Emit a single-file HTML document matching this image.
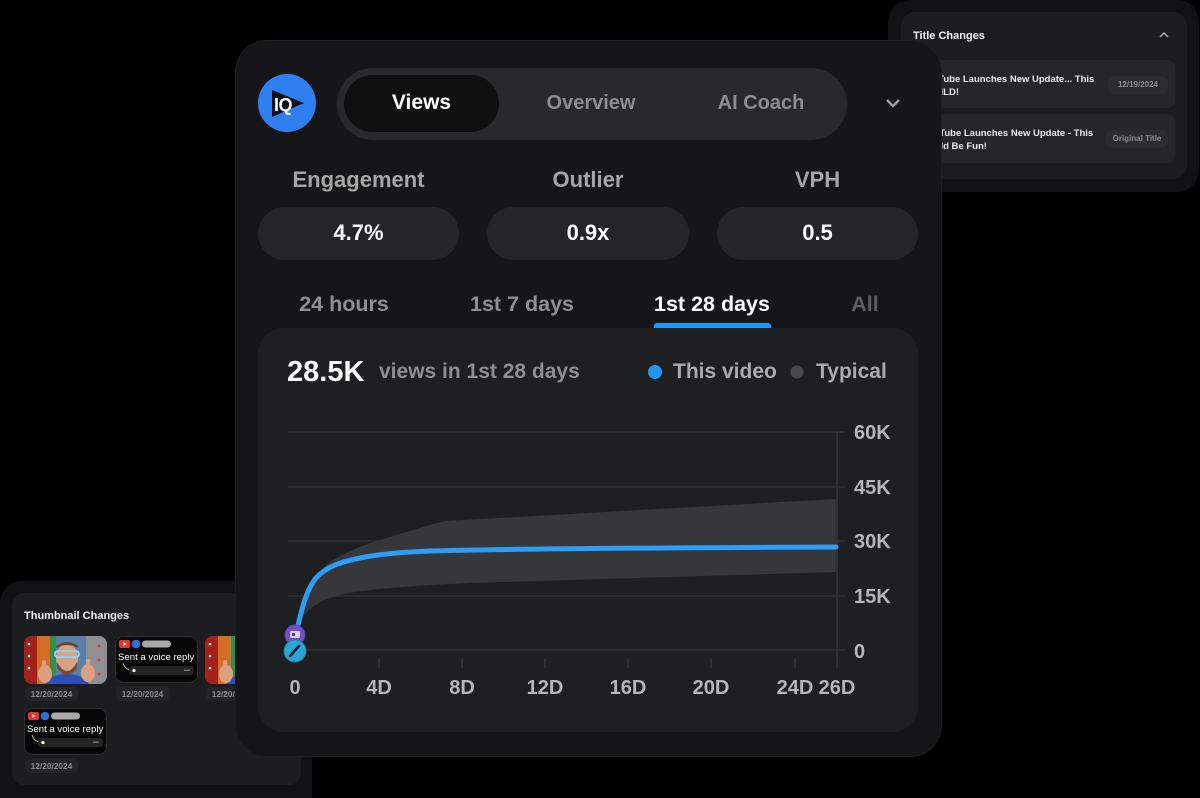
<!DOCTYPE html>
<html><head><meta charset="utf-8">
<style>
*{margin:0;padding:0;box-sizing:border-box}
html{width:1200px;height:798px;overflow:hidden;background:#000}
body{width:1200px;height:798px;background:#000;position:relative;overflow:hidden;font-family:"Liberation Sans",Arial,sans-serif;font-weight:bold}
.a{position:absolute}
.t{position:absolute;white-space:nowrap}
.cc{position:absolute;white-space:nowrap;text-align:center}
</style></head><body>

<!-- Title Changes panel -->
<div class="a" style="left:888px;top:0px;width:311px;height:192px;border-radius:22px;background:#121214"></div>
<div class="a" style="left:901px;top:12px;width:286px;height:167px;border-radius:14px;background:#1c1d1f"></div>
<div class="t" style="left:913px;top:29px;font-size:11px;line-height:14px;color:#f2f2f2">Title Changes</div>
<svg class="a" style="left:1158px;top:31px" width="12" height="8"><polyline points="2,6 6,2 10,6" fill="none" stroke="#b0b0b0" stroke-width="1.5"/></svg>
<div class="a" style="left:913px;top:60px;width:262px;height:48px;border-radius:8px;background:#252628"></div>
<div class="a" style="left:913px;top:114px;width:262px;height:49px;border-radius:8px;background:#252628"></div>
<div class="t" style="left:921px;top:72.5px;font-size:9.5px;line-height:13px;color:#ececec">YouTube Launches New Update... This<br>is WILD!</div>
<div class="t" style="left:922px;top:126.5px;font-size:9.5px;line-height:13px;color:#ececec">YouTube Launches New Update - This<br>Could Be Fun!</div>
<div class="a" style="left:1108px;top:76px;width:60px;height:18px;border-radius:6px;background:#2b2c2e"></div>
<div class="cc" style="left:1108px;top:79px;width:60px;font-size:8px;line-height:12px;color:#8a8a8a">12/19/2024</div>
<div class="a" style="left:1106px;top:130px;width:62px;height:18px;border-radius:6px;background:#2b2c2e"></div>
<div class="cc" style="left:1106px;top:133px;width:62px;font-size:8px;line-height:12px;color:#8a8a8a">Original Title</div>

<!-- Thumbnail Changes panel -->
<div class="a" style="left:0px;top:581px;width:312px;height:217px;border-radius:22px 22px 0 0;background:#121214"></div>
<div class="a" style="left:12px;top:593px;width:289px;height:192px;border-radius:12px;background:#1c1d1f"></div>
<div class="t" style="left:24px;top:609px;font-size:11px;line-height:14px;color:#f2f2f2">Thumbnail Changes</div>

<svg class="a" style="left:0;top:0" width="320" height="798">
  <defs>
    <clipPath id="c1"><rect x="24" y="636" width="83" height="48" rx="8"/></clipPath>
    <clipPath id="c3"><rect x="205" y="636" width="83" height="48" rx="8"/></clipPath>
    <g id="face">
      <rect x="0" y="0" width="83" height="48" fill="#8f9092"/>
      <rect x="0" y="0" width="13" height="48" fill="#a3201b"/>
      <rect x="13" y="0" width="13" height="48" fill="#d46e27"/>
      <rect x="26" y="0" width="6" height="48" fill="#2f8f4f"/>
      <rect x="32" y="0" width="30" height="48" fill="#5a7fa8"/>
      <circle cx="5" cy="8" r="1.3" fill="#fff"/><circle cx="5" cy="20" r="1.3" fill="#fff"/><circle cx="5" cy="32" r="1.3" fill="#fff"/>
      <circle cx="75" cy="10" r="1.5" fill="#d33"/><circle cx="75" cy="24" r="1.5" fill="#d33"/><circle cx="75" cy="38" r="1.5" fill="#d33"/>
      <ellipse cx="43" cy="50" rx="22" ry="12" fill="#2e4fb5"/>
      <ellipse cx="43" cy="22" rx="11" ry="14" fill="#d9a184"/>
      <path d="M33,26 Q43,44 53,26 L53,32 Q43,46 33,32 Z" fill="#7a4a30"/>
      <rect x="31" y="15" width="24" height="6" rx="3" fill="none" stroke="#8fd0f0" stroke-width="2"/>
      <path d="M32,10 Q43,2 54,10 L54,12 Q43,6 32,12Z" fill="#6b4230"/>
      <ellipse cx="21" cy="38" rx="7" ry="9" fill="#dba07e"/>
      <rect x="18" y="24" width="4" height="10" rx="2" fill="#dba07e"/>
      <ellipse cx="64" cy="37" rx="7" ry="9" fill="#dba07e"/>
      <rect x="62" y="23" width="4" height="10" rx="2" fill="#dba07e"/>
    </g>
    <g id="voice">
      <rect x="0.5" y="0.5" width="82" height="46" rx="8" fill="#060606" stroke="#2e2e2e"/>
      <rect x="4" y="4" width="11" height="8" rx="2" fill="#e2352d"/>
      <polygon points="8.5,6 8.5,10 11.5,8" fill="#fff"/>
      <circle cx="21" cy="8" r="4.3" fill="#2c6fe0"/>
      <rect x="27" y="4.5" width="29" height="7" rx="3.5" fill="#a8a8a8"/>
      <text x="3" y="24" font-family="Liberation Sans, Arial, sans-serif" font-weight="normal" font-size="9.6" fill="#fff">Sent a voice reply</text>
      <path d="M8,27 Q10,33 15,34" fill="none" stroke="#c2c63a" stroke-width="1"/>
      <rect x="14" y="30" width="65" height="9" rx="3" fill="#242424"/>
      <circle cx="19" cy="34.5" r="1.6" fill="#fff"/>
      <rect x="69" y="33.5" width="6" height="1.5" fill="#777"/>
    </g>
  </defs>
  <g clip-path="url(#c1)"><use href="#face" x="24" y="636"/></g>
  <use href="#voice" x="115" y="636"/>
  <g clip-path="url(#c3)"><use href="#face" x="205" y="636"/></g>
  <use href="#voice" x="24" y="708"/>
  <rect x="25" y="687" width="53" height="14" rx="4" fill="#232426"/>
  <rect x="116" y="687" width="53" height="14" rx="4" fill="#232426"/>
  <rect x="206" y="687" width="53" height="14" rx="4" fill="#232426"/>
  <rect x="25" y="759" width="53" height="14" rx="4" fill="#232426"/>
  <g font-family="Liberation Sans, Arial, sans-serif" font-weight="bold" font-size="8.3" fill="#8a8a8a" text-anchor="middle">
    <text x="51.5" y="697">12/20/2024</text>
    <text x="142.5" y="697">12/20/2024</text>
    <text x="232.5" y="697">12/20/2024</text>
    <text x="51.5" y="769">12/20/2024</text>
  </g>
</svg>

<!-- Main card -->
<div class="a" style="left:235px;top:40px;width:707px;height:717px;border-radius:32px;background:#161618;border:1px solid #1e1e20"></div>

<!-- Logo -->
<svg class="a" style="left:258px;top:74px" width="58" height="58">
  <circle cx="29" cy="29" r="29" fill="#2f7ff0"/>
  <polygon points="14,16 14,43 46,29" fill="#0e1116"/>
  <text x="16" y="37" font-family="Liberation Sans, Arial, sans-serif" font-weight="bold" font-size="18" fill="#fff" letter-spacing="-0.5">IQ</text>
</svg>

<!-- Tabs -->
<div class="a" style="left:337px;top:68px;width:510px;height:72px;border-radius:36px;background:#28292b"></div>
<div class="a" style="left:344px;top:75px;width:155px;height:57px;border-radius:29px;background:#101011"></div>
<div class="cc" style="left:344px;top:91px;width:155px;font-size:21px;line-height:24px;color:#fff">Views</div>
<div class="cc" style="left:511px;top:91px;width:160px;font-size:20px;line-height:24px;color:#8d8d8d">Overview</div>
<div class="cc" style="left:681px;top:91px;width:160px;font-size:20px;line-height:24px;color:#8d8d8d">AI Coach</div>
<svg class="a" style="left:884px;top:96px" width="18" height="14"><polyline points="3,4 9,10 15,4" fill="none" stroke="#a0a0a0" stroke-width="2.4"/></svg>

<!-- Stats -->
<div class="cc" style="left:258px;top:167px;width:201px;font-size:22px;line-height:26px;color:#a6a6a6">Engagement</div>
<div class="cc" style="left:487px;top:167px;width:202px;font-size:22px;line-height:26px;color:#a6a6a6">Outlier</div>
<div class="cc" style="left:717px;top:167px;width:201px;font-size:22px;line-height:26px;color:#a6a6a6">VPH</div>
<div class="a" style="left:258px;top:207px;width:201px;height:53px;border-radius:27px;background:#242527"></div>
<div class="a" style="left:487px;top:207px;width:202px;height:53px;border-radius:27px;background:#242527"></div>
<div class="a" style="left:717px;top:207px;width:201px;height:53px;border-radius:27px;background:#242527"></div>
<div class="cc" style="left:258px;top:220px;width:201px;font-size:22px;line-height:26px;color:#fff">4.7%</div>
<div class="cc" style="left:487px;top:220px;width:202px;font-size:22px;line-height:26px;color:#fff">0.9x</div>
<div class="cc" style="left:717px;top:220px;width:201px;font-size:22px;line-height:26px;color:#fff">0.5</div>

<!-- Range tabs -->
<div class="cc" style="left:264px;top:291px;width:160px;font-size:21.5px;line-height:26px;color:#8f8f8f">24 hours</div>
<div class="cc" style="left:442px;top:291px;width:160px;font-size:21.5px;line-height:26px;color:#8f8f8f">1st 7 days</div>
<div class="cc" style="left:632px;top:291px;width:160px;font-size:21.5px;line-height:26px;color:#fff">1st 28 days</div>
<div class="cc" style="left:825px;top:291px;width:80px;font-size:21.5px;line-height:26px;color:#5e5e5e">All</div>
<div class="a" style="left:654px;top:323px;width:117px;height:5px;border-radius:3px 3px 0 0;background:#2196f3"></div>

<!-- Chart card -->
<div class="a" style="left:258px;top:328px;width:660px;height:404px;border-radius:26px;background:#1e1f21"></div>
<div class="t" style="left:287px;top:355px;font-size:29px;line-height:34px;color:#fff">28.5K</div>
<div class="t" style="left:379px;top:359px;font-size:21px;line-height:26px;color:#8f8f8f">views in 1st 28 days</div>
<div class="t" style="left:673px;top:359px;font-size:21px;line-height:26px;color:#ababab">This video</div>
<div class="t" style="left:816px;top:359px;font-size:21px;line-height:26px;color:#ababab">Typical</div>

<svg class="a" style="left:0;top:0" width="1200" height="798">
  <circle cx="655" cy="372" r="7" fill="#2196f3"/>
  <circle cx="797" cy="372" r="6.5" fill="#4a4a4c"/>
  <g stroke="#303134" stroke-width="1.5">
    <line x1="288" y1="432" x2="845" y2="432"/>
    <line x1="288" y1="487" x2="845" y2="487"/>
    <line x1="288" y1="541" x2="845" y2="541"/>
    <line x1="288" y1="596" x2="845" y2="596"/>
    <line x1="288" y1="650" x2="845" y2="650"/>
  </g>
  <g stroke="#35363a" stroke-width="1.5">
    <line x1="837" y1="432" x2="837" y2="668"/>
    <line x1="379" y1="659" x2="379" y2="668"/>
    <line x1="462" y1="659" x2="462" y2="668"/>
    <line x1="545" y1="659" x2="545" y2="668"/>
    <line x1="628" y1="659" x2="628" y2="668"/>
    <line x1="711" y1="659" x2="711" y2="668"/>
    <line x1="795" y1="659" x2="795" y2="668"/>
  </g>
  <path d="M299,622 C304,598 314,574 330,562 C345,552 365,544 390,537 C410,531 425,526 445,521 L836,499 L836,572 L470,583 C430,585 390,587 355,592 C330,596 312,602 299,622 Z" fill="#36373a"/>
  <path d="M297,630 C301,612 306,590 316,578 C326,567 340,562 360,558 C380,554 400,552 430,551 C500,549 600,548 836,547" fill="none" stroke="#2e9df5" stroke-width="5" stroke-linecap="round"/>
  <circle cx="295" cy="635" r="10" fill="#7150c8" stroke="#5a3ea8" stroke-width="1"/>
  <rect x="290" y="631" width="10" height="7" rx="1.5" fill="#d8d0f0"/>
  <rect x="292" y="633" width="3" height="3" fill="#5a3ea8"/>
  <circle cx="295" cy="651" r="11" fill="#2aa6d6" stroke="#1d7fa6" stroke-width="1"/>
  <line x1="290" y1="656" x2="299" y2="646" stroke="#0d1a22" stroke-width="2.5" stroke-linecap="round"/>
  <g font-family="Liberation Sans, Arial, sans-serif" font-weight="bold" font-size="20" fill="#b6b6b6">
    <text x="854" y="439">60K</text>
    <text x="854" y="494">45K</text>
    <text x="854" y="548">30K</text>
    <text x="854" y="603">15K</text>
    <text x="854" y="658">0</text>
  </g>
  <g font-family="Liberation Sans, Arial, sans-serif" font-weight="bold" font-size="20" fill="#b6b6b6" text-anchor="middle">
    <text x="295" y="694">0</text>
    <text x="379" y="694">4D</text>
    <text x="462" y="694">8D</text>
    <text x="545" y="694">12D</text>
    <text x="628" y="694">16D</text>
    <text x="711" y="694">20D</text>
    <text x="795" y="694">24D</text>
    <text x="837" y="694">26D</text>
  </g>
</svg>
</body></html>
